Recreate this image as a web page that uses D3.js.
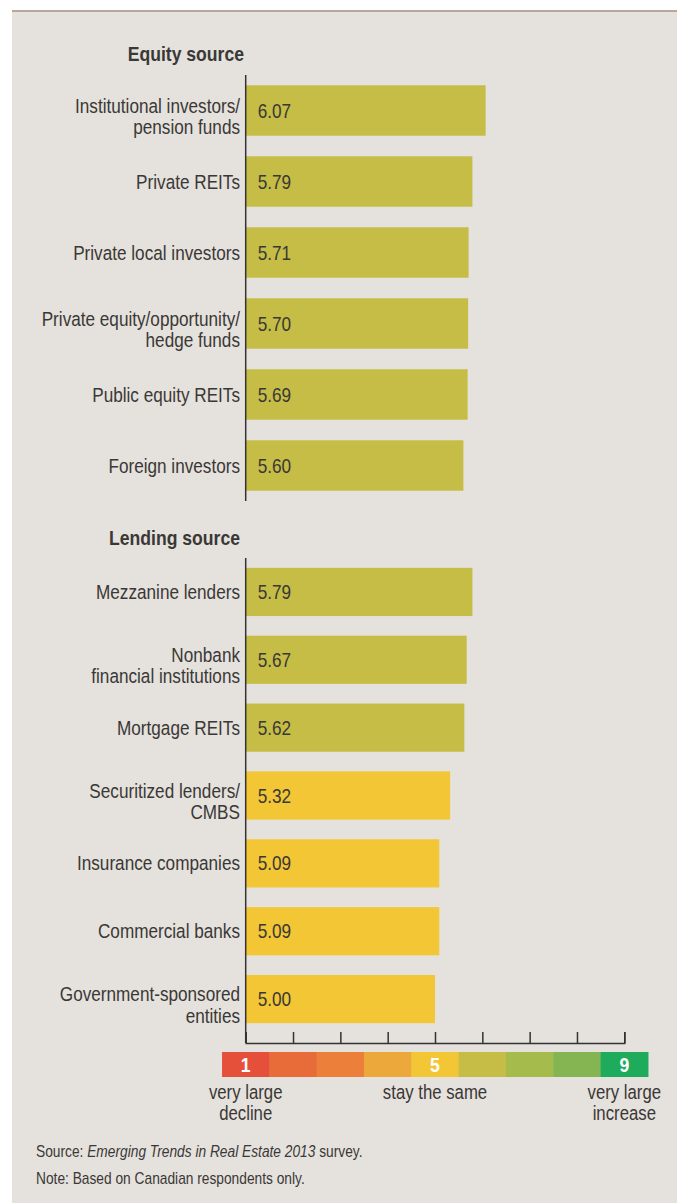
<!DOCTYPE html>
<html>
<head>
<meta charset="utf-8">
<script src="https://cdn.jsdelivr.net/npm/d3@7"></script>
<style>
  html, body { margin: 0; padding: 0; background: #ffffff; }
  svg { display: block; }
  text { font-family: "Liberation Sans", Arial, sans-serif; fill: #3a3836; }
</style>
</head>
<body>
<svg id="chart" width="677" height="1203"></svg>
<script>
// ---- data ----
const equityCategories = [
  ["Institutional investors/", "pension funds"],
  ["Private REITs"],
  ["Private local investors"],
  ["Private equity/opportunity/", "hedge funds"],
  ["Public equity REITs"],
  ["Foreign investors"]
];
const equityValues = [6.07, 5.79, 5.71, 5.70, 5.69, 5.60];

const lendingCategories = [
  ["Mezzanine lenders"],
  ["Nonbank", "financial institutions"],
  ["Mortgage REITs"],
  ["Securitized lenders/", "CMBS"],
  ["Insurance companies"],
  ["Commercial banks"],
  ["Government-sponsored", "entities"]
];
const lendingValues = [5.79, 5.67, 5.62, 5.32, 5.09, 5.09, 5.00];

const scaleSteps = [1, 2, 3, 4, 5, 6, 7, 8, 9];
const scaleColors = ["#e5503b", "#e86c3a", "#ec803a", "#eca83a", "#f3c636", "#c5bd45", "#a5bb4c", "#85b452", "#1eac5c"];
const scaleStepLabels = {1: "1", 5: "5", 9: "9"};
const scaleCaptions = [
  {v: 1, lines: ["very large", "decline"]},
  {v: 5, lines: ["stay the same"]},
  {v: 9, lines: ["very large", "increase"]}
];

// ---- drawing ----
const svg = d3.select("#chart");
const SX = 0.88; // condensed look

// Text helper: condensed text anchored at (x, y) baseline of first line
function addText(parent, x, y, lines, o) {
  o = o || {};
  const lh = o.lh || 22;
  const t = parent.append("text")
    .attr("transform", `translate(${x},${y}) scale(${o.sx || SX},1)`)
    .attr("text-anchor", o.anchor || "start")
    .style("font-size", (o.size || 19.5) + "px");
  if (o.weight) t.style("font-weight", o.weight);
  if (o.fill) t.style("fill", o.fill);
  lines.forEach((ln, k) => {
    t.append("tspan").attr("x", 0).attr("y", k * lh).text(ln);
  });
  return t;
}

// panel
svg.append("rect").attr("x", 12).attr("y", 10).attr("width", 665).attr("height", 1193).attr("fill", "#e5e1dc");
svg.append("rect").attr("x", 12).attr("y", 10).attr("width", 665).attr("height", 2).attr("fill", "#b7a69c");

const x = d3.scaleLinear().domain([1, 9]).range([245.7, 624.3]);
const colorOf = d3.scaleOrdinal().domain(scaleSteps).range(scaleColors);
const axisX = x(1);

function section(title, titleX, titleY, cats, vals, y0, y1, axisTop, axisBottom) {
  const idx = d3.range(cats.length);
  const y = d3.scaleBand().domain(idx).range([y0, y1]).paddingInner(0.29).paddingOuter(0.145);
  const g = svg.append("g");

  addText(g, titleX, titleY, [title], {anchor: "end", weight: "bold", size: 20, sx: 0.88});

  g.selectAll("rect.bar").data(idx).join("rect").attr("class", "bar")
    .attr("x", x(1)).attr("y", i => y(i))
    .attr("width", i => x(vals[i]) - x(1)).attr("height", y.bandwidth())
    .attr("fill", i => colorOf(Math.round(vals[i])));

  idx.forEach(i => {
    const cy = y(i) + y.bandwidth() / 2;
    addText(g, x(1) + 12, cy + 7, [vals[i].toFixed(2)], {size: 20, sx: 0.86});
    const lines = cats[i];
    const firstBase = lines.length > 1 ? cy + 2 : cy + 7;
    addText(g, 240, firstBase, lines, {anchor: "end", lh: 21.5});
  });

  g.append("line").attr("x1", axisX).attr("x2", axisX).attr("y1", axisTop).attr("y2", axisBottom)
    .attr("stroke", "#333").attr("stroke-width", 1.5);
}

section("Equity source", 244, 61, equityCategories, equityValues, 75, 501, 75, 501);
section("Lending source", 240, 545, lendingCategories, lendingValues, 558, 1033, 558, 1043);

// tick axis
const axisG = svg.append("g").attr("transform", "translate(0,1043)")
  .call(d3.axisTop(x).tickValues(scaleSteps).tickSize(11).tickSizeOuter(11).tickFormat(""));
axisG.select(".domain").attr("stroke", "#333").attr("stroke-width", 1.5);
axisG.selectAll(".tick line").attr("stroke", "#333").attr("stroke-width", 1.5);

// colour scale legend
const step = x(2) - x(1);
const leg = svg.append("g");
leg.selectAll("rect").data(scaleSteps).join("rect")
  .attr("x", d => x(d) - step / 2).attr("y", 1052)
  .attr("width", step + 0.5).attr("height", 25)
  .attr("fill", d => colorOf(d));
scaleSteps.filter(d => scaleStepLabels[d]).forEach(d => {
  addText(leg, x(d), 1071.5, [scaleStepLabels[d]], {anchor: "middle", weight: "bold", size: 20, fill: "#ffffff"});
});
scaleCaptions.forEach(c => {
  addText(leg, x(c.v), 1099, c.lines, {anchor: "middle", lh: 21, sx: 0.86});
});

// source & note
const src = addText(svg, 36, 1157, [""], {size: 16, sx: 0.86});
const sp = src.select("tspan");
sp.append("tspan").text("Source: ");
sp.append("tspan").style("font-style", "italic").text("Emerging Trends in Real Estate 2013");
sp.append("tspan").text(" survey.");
addText(svg, 36, 1184, ["Note: Based on Canadian respondents only."], {size: 16, sx: 0.86});
</script>
</body>
</html>
